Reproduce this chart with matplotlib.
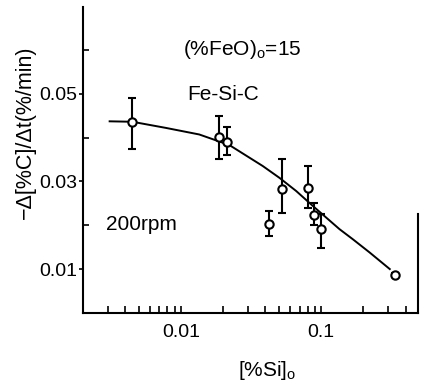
import numpy as np
import matplotlib
matplotlib.use('Agg')
import matplotlib.pyplot as plt

plt.rcParams['font.family'] = ['Liberation Sans', 'DejaVu Sans']
plt.rcParams['mathtext.fontset'] = 'custom'
plt.rcParams['mathtext.rm'] = 'Liberation Sans'

# measured points: [%Si]o, rate, error bar up / down
si = [0.0045, 0.0188, 0.0214, 0.0422, 0.0524, 0.0802, 0.0881, 0.100, 0.336]
rate = [0.0436, 0.0401, 0.0389, 0.0202, 0.0283, 0.0285, 0.0223, 0.0191, 0.0087]
err_hi = [0.0054, 0.0049, 0.0036, 0.0030, 0.0067, 0.0050, 0.0027, 0.0034, 0.0004]
err_lo = [0.0061, 0.0049, 0.0028, 0.0026, 0.0054, 0.0045, 0.0023, 0.0042, 0.0004]

# fitted curve
curve_si = [0.0031, 0.0045, 0.0078, 0.0135, 0.0221, 0.0383, 0.0504, 0.0663, 0.0871, 0.135, 0.168, 0.221, 0.308]
curve_rate = [0.0437, 0.0436, 0.0422, 0.0407, 0.0383, 0.0335, 0.0308, 0.0278, 0.0244, 0.0191, 0.0168, 0.0138, 0.0100]

yticks_major = [0.01, 0.03, 0.05]
ytick_labels = ['0.01', '0.03', '0.05']
yticks_minor = [0.02, 0.04, 0.06]
xticks_major = [0.01, 0.1]
xtick_labels = ['0.01', '0.1']

fig = plt.figure(figsize=(4.21, 3.83), dpi=100)
ax = fig.add_axes([0.197, 0.183, 0.796, 0.799])

ax.plot(curve_si, curve_rate, color='black', lw=1.4)
ax.errorbar(si, rate, yerr=[err_lo, err_hi], fmt='o', mfc='white', mec='black',
            mew=1.5, ms=6, ecolor='black', elinewidth=1.5, capsize=3, capthick=1.5)

ax.set_xscale('log')
ax.set_xlim(0.002, 0.49)
ax.set_ylim(0, 0.0698)

ax.set_xticks(xticks_major, xtick_labels)
ax.xaxis.set_minor_locator(matplotlib.ticker.LogLocator(base=10, subs=np.arange(2, 10)))
ax.xaxis.set_minor_formatter(matplotlib.ticker.NullFormatter())
ax.tick_params(axis='x', which='both', direction='in', length=5, width=1.2, labelsize=14, pad=8)

ax.set_yticks(yticks_major, ytick_labels)
ax.set_yticks(yticks_minor, minor=True)
ax.tick_params(axis='y', which='major', direction='out', length=3, width=1.2, labelsize=14, pad=1)
ax.tick_params(axis='y', which='minor', direction='in', length=4, width=1.2)

for s in ['left', 'bottom', 'right']:
    ax.spines[s].set_linewidth(1.5)
ax.spines['top'].set_visible(False)
ax.spines['right'].set_bounds(0, 0.0225)

ax.set_ylabel('−Δ[%C]/Δt(%/min)', fontsize=15.5)
ax.yaxis.set_label_coords(-0.14, 0.59)
ax.set_xlabel('[%Si]$_\\mathrm{o}$', fontsize=15)
ax.xaxis.set_label_coords(0.55, -0.15)

ax.text(0.3, 0.86, '(%FeO)$_\\mathrm{o}$=15', transform=ax.transAxes, fontsize=15, va='center')
ax.text(0.31, 0.715, 'Fe-Si-C', transform=ax.transAxes, fontsize=15, va='center')
ax.text(0.07, 0.29, '200rpm', transform=ax.transAxes, fontsize=15, va='center')

fig.savefig('out.png', dpi=100)
